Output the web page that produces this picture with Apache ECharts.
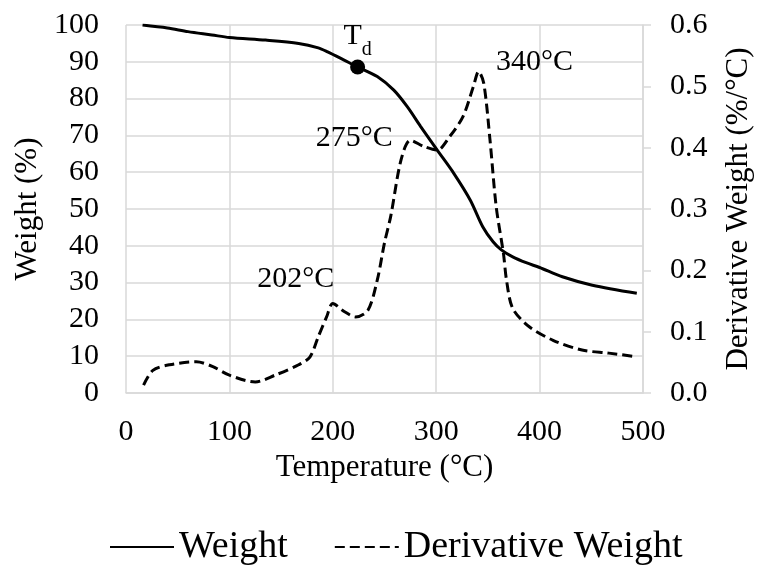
<!DOCTYPE html>
<html>
<head>
<meta charset="utf-8">
<script src="https://cdn.jsdelivr.net/npm/echarts@6/dist/echarts.min.js"></script>
<style>html,body{margin:0;padding:0;background:#fff}#c{width:762px;height:573px}</style>
</head>
<body>
<div id="c"></div>
<script>
var weightTemps = [16, 40, 60, 83, 100, 135, 167, 186, 195, 210, 224, 243, 259, 272, 285, 301, 317, 333, 345, 355, 363, 374, 387, 400, 422, 451, 494];
var weightValues = [100, 99.2, 98.2, 97.3, 96.6, 95.9, 95.0, 93.8, 92.7, 90.6, 88.6, 86.0, 82.3, 77.8, 72.4, 66.0, 59.7, 52.4, 45.2, 41.1, 38.9, 37.0, 35.4, 34.1, 31.6, 29.3, 27.1];
var derivTemps = [17, 26, 42, 68, 84, 100, 125, 144, 167, 178, 186, 194, 200, 211, 222, 234, 243, 250, 256, 266, 275, 288, 301, 313, 326, 336, 341, 346, 352, 358, 365, 368, 374, 390, 413, 441, 467, 494];
var derivValues = [0.013, 0.037, 0.046, 0.051, 0.043, 0.029, 0.018, 0.029, 0.046, 0.059, 0.092, 0.124, 0.146, 0.133, 0.124, 0.135, 0.184, 0.245, 0.288, 0.38, 0.412, 0.402, 0.396, 0.418, 0.451, 0.5, 0.524, 0.505, 0.413, 0.304, 0.228, 0.184, 0.138, 0.108, 0.086, 0.07, 0.065, 0.059];
var tdPoint = [224, 88.6];
var peakLabels = [
  {name: '202°C', coord: [200, 0.146]},
  {name: '275°C', coord: [275, 0.412]},
  {name: '340°C', coord: [341, 0.524]}
];
var leftTicks = [0, 100, 10];
var rightTicks = [0, 0.6, 0.1];
var xTicks = [0, 500, 100];

var FONT = '"Liberation Serif", "Times New Roman", serif';
var GRID = '#d9d9d9';

function zip(a, b) { return a.map(function (v, i) { return [v, b[i]]; }); }

var labelOffsets = [[-37, -24], [-56, -2], [56, -9]];

var chart = echarts.init(document.getElementById('c'), null, {renderer: 'canvas'});
chart.setOption({
  backgroundColor: '#fff',
  animation: false,
  textStyle: {fontFamily: FONT, color: '#000'},
  grid: {left: 126, right: 114, top: 25, bottom: 180, containLabel: false},
  legend: {
    data: ['Weight', 'Derivative Weight'],
    bottom: 2,
    left: 104,
    itemWidth: 64,
    itemHeight: 14,
    itemGap: 46,
    itemStyle: {opacity: 0},
    textStyle: {fontFamily: FONT, fontSize: 38, color: '#000'}
  },
  xAxis: {
    type: 'value',
    min: xTicks[0], max: xTicks[1], interval: xTicks[2],
    name: 'Temperature (°C)',
    nameLocation: 'middle',
    nameGap: 56,
    nameTextStyle: {fontFamily: FONT, fontSize: 31, color: '#000'},
    axisLine: {show: true, lineStyle: {color: GRID, width: 1.5}},
    axisTick: {show: false},
    axisLabel: {fontFamily: FONT, fontSize: 30, color: '#000', margin: 24},
    splitLine: {show: true, lineStyle: {color: GRID, width: 1.5}}
  },
  yAxis: [{
    type: 'value',
    min: leftTicks[0], max: leftTicks[1], interval: leftTicks[2],
    name: 'Weight (%)',
    nameLocation: 'middle',
    nameGap: 82,
    nameTextStyle: {fontFamily: FONT, fontSize: 31, color: '#000'},
    axisLine: {show: false},
    axisTick: {show: false},
    axisLabel: {fontFamily: FONT, fontSize: 30, color: '#000', margin: 27},
    splitLine: {show: true, lineStyle: {color: GRID, width: 1.5}}
  }, {
    type: 'value',
    position: 'right',
    min: rightTicks[0], max: rightTicks[1], interval: rightTicks[2],
    name: 'Derivative Weight (%/°C)',
    nameLocation: 'middle',
    nameGap: 80,
    nameTextStyle: {fontFamily: FONT, fontSize: 31, color: '#000'},
    axisLine: {show: true, lineStyle: {color: GRID, width: 1.5}},
    axisTick: {show: true, length: 8, lineStyle: {color: GRID, width: 1.5}},
    axisLabel: {fontFamily: FONT, fontSize: 30, color: '#000', margin: 27,
      formatter: function (v) { return v.toFixed(1); }},
    splitLine: {show: false}
  }],
  series: [{
    name: 'Weight',
    type: 'line',
    yAxisIndex: 0,
    data: zip(weightTemps, weightValues),
    smooth: 0.3,
    symbol: 'none',
    lineStyle: {color: '#000', width: 3},
    itemStyle: {color: '#000'},
    z: 3
  }, {
    name: 'Derivative Weight',
    type: 'line',
    yAxisIndex: 1,
    data: zip(derivTemps, derivValues),
    smooth: 0.3,
    symbol: 'none',
    lineStyle: {color: '#000', width: 3, type: [10, 5]},
    itemStyle: {color: '#000'},
    z: 3,
    markPoint: {
      symbol: 'circle',
      symbolSize: 0,
      silent: true,
      data: peakLabels.map(function (p, i) {
        return {
          name: p.name, coord: p.coord,
          label: {show: true, formatter: p.name, position: 'inside',
            offset: labelOffsets[i], fontFamily: FONT, fontSize: 30, color: '#000'}
        };
      })
    }
  }, {
    name: 'Td',
    type: 'scatter',
    yAxisIndex: 0,
    data: [tdPoint],
    symbol: 'circle',
    symbolSize: 15,
    itemStyle: {color: '#000', opacity: 1},
    z: 5,
    label: {
      show: true,
      position: 'top',
      distance: 0,
      formatter: '{t|T}{s|d}',
      rich: {
        t: {fontFamily: FONT, fontSize: 30, color: '#000', verticalAlign: 'bottom', padding: [0, 0, 8, 0]},
        s: {fontFamily: FONT, fontSize: 20, color: '#000', verticalAlign: 'bottom'}
      }
    }
  }]
});
</script>
</body>
</html>
